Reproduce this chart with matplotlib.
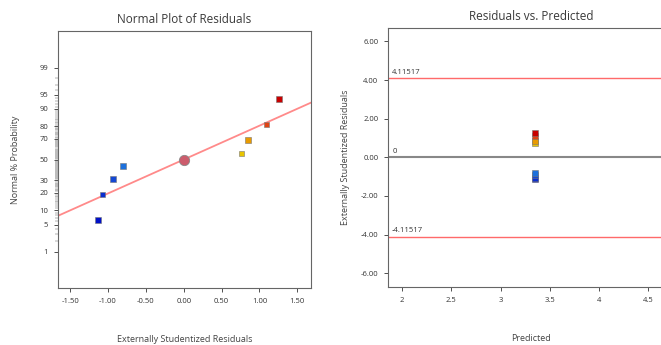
import matplotlib.pyplot as plt
from statistics import NormalDist

# residuals (sorted)
residuals = [-1.13, -1.07, -0.93, -0.80, 0.76, 0.85, 1.09, 1.26]
probs = [6.25, 18.75, 31.25, 43.75, 56.25, 68.75, 81.25, 93.75]  # normal % probability
colors = ["#0010c8", "#0a2ed0", "#1448d4", "#1c70dc",
          "#e8c400", "#e89a00", "#e04414", "#c80000"]
predicted = [3.354] * 8
center_x, center_p = 0.0, 50
line_slope = 0.857  # z per residual unit
limit = 4.11517

prob_ticks = [1, 5, 10, 20, 30, 50, 70, 80, 90, 95, 99]
res_ticks = [-1.5, -1.0, -0.5, 0.0, 0.5, 1.0, 1.5]
pred_ticks = [2, 2.5, 3, 3.5, 4, 4.5]
resid_yticks = [-6, -4, -2, 0, 2, 4, 6]

nd = NormalDist()
z = lambda p: nd.inv_cdf(p / 100)

plt.rcParams['font.family'] = ['Open Sans', 'DejaVu Sans']
fig = plt.figure(figsize=(6.61, 3.45), dpi=100)
tick_col = "#333333"
lab_col = "#444444"

# ---- normal plot ----
ax1 = fig.add_axes([0.0877, 0.165, 0.3828, 0.745])
ax1.set_xlim(-1.66, 1.68)
ax1.set_ylim(-3.25, 3.25)
xs = [-1.66, 1.68]
ax1.plot(xs, [line_slope * x for x in xs], color="#ff8a8a", lw=1.3, zorder=1)
ax1.scatter(residuals, [z(p) for p in probs], marker="s", s=16, c=colors,
            edgecolors="#777777", linewidths=0.4, zorder=3)
ax1.scatter([center_x], [z(center_p)], marker="o", s=55, color="#cc5c6c",
            edgecolors="#888888", linewidths=0.6, zorder=3)
ax1.set_xticks(res_ticks)
ax1.set_xticklabels([f"{t:.2f}" for t in res_ticks])
ax1.set_yticks([z(p) for p in prob_ticks])
ax1.set_yticklabels([str(p) for p in prob_ticks])
ax1.set_yticks([z(p) for p in range(1, 100)], minor=True)
ax1.tick_params(axis="both", labelsize=5.5, colors=tick_col, length=3, width=0.6, pad=4)
ax1.tick_params(axis="y", which="minor", length=2, width=0.35, color="#666666")
ax1.set_title("Normal Plot of Residuals", fontsize=8.5, color="#3a3a3a", pad=6)
ax1.set_xlabel("Externally Studentized Residuals", fontsize=6.5, color=lab_col, labelpad=22)
ax1.set_ylabel("Normal % Probability", fontsize=6.5, color=lab_col, labelpad=14)
for s in ax1.spines.values():
    s.set_color("#666666")
    s.set_linewidth(0.8)

# ---- residuals vs predicted ----
ax2 = fig.add_axes([0.587, 0.168, 0.434, 0.751])
ax2.set_xlim(1.858, 4.77)
ax2.set_ylim(-6.72, 6.7)
ax2.axhline(limit, color="#ff6a6a", lw=1.0)
ax2.axhline(-limit, color="#ff6a6a", lw=1.0)
ax2.axhline(0, color="#888888", lw=1.5)
ax2.text(1.9, limit + 0.12, f"{limit}", fontsize=5.5, color=tick_col, va="bottom")
ax2.text(1.9, -limit + 0.12, f"-{limit}", fontsize=5.5, color=tick_col, va="bottom")
ax2.text(1.9, 0.12, "0", fontsize=5.5, color=tick_col, va="bottom")
ax2.scatter(predicted, residuals, marker="s", s=20, c=colors,
            edgecolors="#777777", linewidths=0.4, zorder=3)
ax2.set_xticks(pred_ticks)
ax2.set_xticklabels([f"{t:g}" for t in pred_ticks])
ax2.set_yticks(resid_yticks)
ax2.set_yticklabels([f"{t:.2f}" for t in resid_yticks])
ax2.tick_params(axis="both", labelsize=5.5, colors=tick_col, length=3, width=0.6, pad=4)
ax2.set_title("Residuals vs. Predicted", fontsize=8.5, color="#3a3a3a", pad=6)
ax2.set_xlabel("Predicted", fontsize=6.5, color=lab_col, labelpad=22)
ax2.set_ylabel("Externally Studentized Residuals", fontsize=6.5, color=lab_col, labelpad=8)
for s in ax2.spines.values():
    s.set_color("#666666")
    s.set_linewidth(0.8)

fig.savefig("out.png", dpi=100)
